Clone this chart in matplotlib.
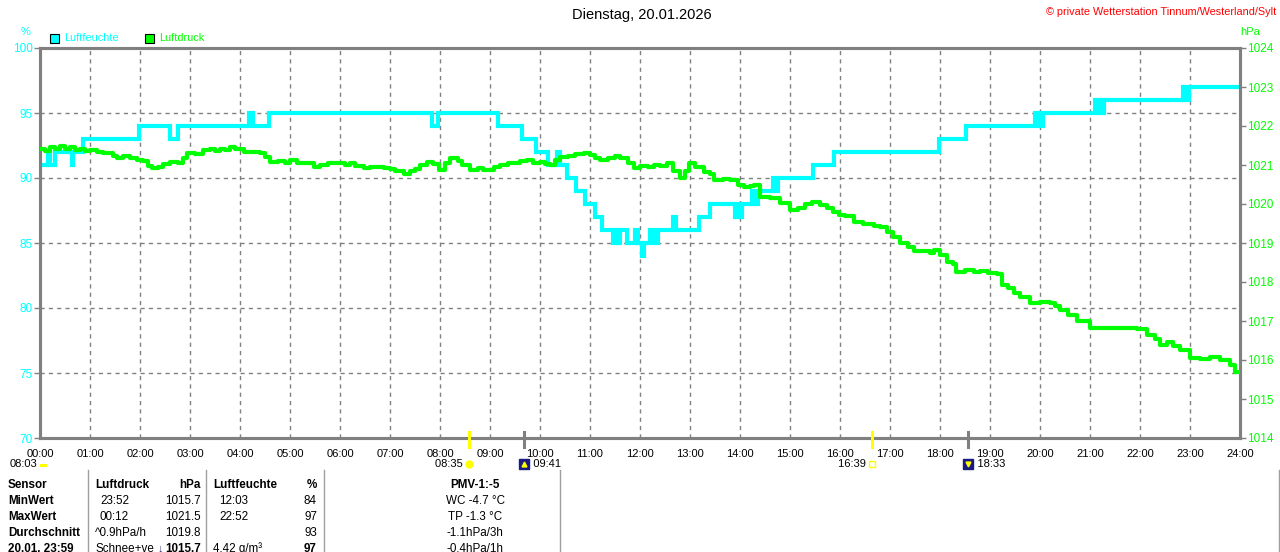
import matplotlib
matplotlib.use("Agg")
import matplotlib.pyplot as plt
from matplotlib import transforms
from matplotlib.lines import Line2D
from matplotlib.patches import Rectangle

plt.rcParams['font.family'] = ['Liberation Sans', 'DejaVu Sans']

# ---------------- data ----------------
title = "Dienstag, 20.01.2026"
copyright_txt = "© private Wetterstation Tinnum/Westerland/Sylt"
hour_labels = ["%02d:00" % h for h in range(25)]
hum_ticks = [70, 75, 80, 85, 90, 95, 100]
pres_ticks = list(range(1014, 1025))

# humidity (%) step changes: time (h), value
hum_t = [0, 0.15, 0.2, 0.3, 0.63, 0.66, 0.86, 1.97, 2.6, 2.76, 4.17, 4.27, 4.57,
         7.84, 7.96, 9.16, 9.64, 9.92, 10.16, 10.33, 10.4, 10.54, 10.72, 10.9,
         11.1, 11.24, 11.46, 11.52, 11.56, 11.6, 11.74, 11.9, 11.95, 12.03, 12.07,
         12.2, 12.28, 12.36, 12.65, 12.72, 13.18, 13.4, 13.9, 13.97, 14.0, 14.04,
         14.24, 14.3, 14.35, 14.66, 14.7, 14.75, 15.45, 15.88, 17.98, 18.52,
         19.9, 19.95, 20.0, 20.02, 20.05, 21.1, 21.15, 21.2, 21.23, 21.27,
         22.85, 22.88, 22.92, 22.95, 22.97, 24.0]
hum_v = [91, 92, 91, 92, 91, 92, 93, 94, 93, 94, 95, 94, 95,
         94, 95, 94, 93, 92, 91, 92, 91, 90, 89, 88,
         87, 86, 85, 86, 85, 86, 85, 86, 85, 84, 85,
         86, 85, 86, 87, 86, 87, 88, 87, 88, 87, 88,
         89, 88, 89, 90, 89, 90, 91, 92, 93, 94,
         95, 94, 95, 94, 95, 96, 95, 96, 95, 96,
         97, 96, 97, 96, 97, 97]

# air pressure (hPa)
pres_t = [0.0, 0.1, 0.2, 0.3, 0.4, 0.5, 0.6, 0.7, 0.8, 0.9, 1.0, 1.13, 1.25, 1.35,
          1.45, 1.53, 1.65, 1.8, 1.93, 2.05, 2.15, 2.24, 2.35, 2.45, 2.6, 2.75,
          2.85, 2.93, 3.1, 3.25, 3.4, 3.5, 3.6, 3.7, 3.8, 3.9, 4.07, 4.2, 4.4,
          4.5, 4.6, 4.75, 4.9, 5.0, 5.13, 5.3, 5.47, 5.6, 5.75, 5.93, 6.1, 6.2,
          6.3, 6.47, 6.6, 6.87, 7.0, 7.1, 7.27, 7.4, 7.5, 7.6, 7.73, 7.85, 7.97,
          8.1, 8.2, 8.35, 8.45, 8.6, 8.75, 8.87, 9.07, 9.2, 9.35, 9.47, 9.6, 9.73,
          9.85, 10.0, 10.1, 10.2, 10.3, 10.4, 10.55, 10.7, 10.87, 11.0, 11.1,
          11.2, 11.35, 11.5, 11.6, 11.75, 11.87, 12.0, 12.15, 12.27, 12.4, 12.53,
          12.65, 12.8, 12.9, 12.97, 13.1, 13.27, 13.4, 13.47, 13.65, 13.8, 13.95,
          14.07, 14.2, 14.27, 14.4, 14.6, 14.8, 15.0, 15.15, 15.3, 15.43, 15.6,
          15.73, 15.85, 15.97, 16.1, 16.27, 16.45, 16.67, 16.8, 16.93, 17.05,
          17.2, 17.35, 17.47, 17.67, 17.8, 17.87, 18.0, 18.13, 18.25, 18.33, 18.5,
          18.67, 18.8, 18.95, 19.13, 19.23, 19.35, 19.47, 19.6, 19.8, 20.0, 20.2,
          20.3, 20.4, 20.55, 20.73, 20.93, 21.0, 21.27, 21.6, 21.93, 22.13, 22.3,
          22.4, 22.53, 22.65, 22.8, 23.0, 23.2, 23.4, 23.6, 23.8, 23.9, 24.0]
pres_v = [1021.40, 1021.35, 1021.45, 1021.40, 1021.48, 1021.42, 1021.45, 1021.38,
          1021.40, 1021.35, 1021.38, 1021.34, 1021.30, 1021.32, 1021.22, 1021.17,
          1021.22, 1021.18, 1021.13, 1021.10, 1020.98, 1020.92, 1020.95, 1021.02,
          1021.08, 1021.05, 1021.18, 1021.30, 1021.28, 1021.38, 1021.40, 1021.35,
          1021.42, 1021.38, 1021.45, 1021.40, 1021.34, 1021.33, 1021.30, 1021.20,
          1021.08, 1021.10, 1021.06, 1021.12, 1021.04, 1021.06, 1020.96, 1021.00,
          1021.05, 1021.06, 1021.00, 1021.04, 1020.98, 1020.92, 1020.95, 1020.92,
          1020.90, 1020.85, 1020.77, 1020.85, 1020.90, 1021.00, 1021.08, 1021.02,
          1020.87, 1021.05, 1021.17, 1021.10, 1021.00, 1020.87, 1020.92, 1020.87,
          1020.96, 1021.00, 1021.05, 1021.06, 1021.10, 1021.13, 1021.06, 1021.08,
          1021.02, 1021.00, 1021.12, 1021.21, 1021.22, 1021.28, 1021.30, 1021.25,
          1021.18, 1021.13, 1021.18, 1021.22, 1021.17, 1021.05, 1020.92, 1020.97,
          1020.94, 1021.00, 1020.97, 1021.04, 1020.85, 1020.66, 1020.85, 1021.04,
          1020.95, 1020.83, 1020.78, 1020.62, 1020.64, 1020.62, 1020.50, 1020.43,
          1020.45, 1020.49, 1020.19, 1020.15, 1020.02, 1019.85, 1019.90, 1020.00,
          1020.06, 1019.97, 1019.89, 1019.80, 1019.72, 1019.68, 1019.55, 1019.50,
          1019.44, 1019.40, 1019.29, 1019.15, 1019.01, 1018.90, 1018.80, 1018.80,
          1018.75, 1018.83, 1018.70, 1018.52, 1018.45, 1018.26, 1018.30, 1018.26,
          1018.28, 1018.22, 1018.20, 1017.92, 1017.85, 1017.71, 1017.62, 1017.45,
          1017.48, 1017.45, 1017.38, 1017.28, 1017.15, 1017.00, 1017.00, 1016.81,
          1016.82, 1016.82, 1016.80, 1016.64, 1016.55, 1016.38, 1016.45, 1016.35,
          1016.26, 1016.04, 1016.02, 1016.08, 1016.00, 1015.87, 1015.70, 1015.70]

# sun / twilight events (h) and labels
sun_t = [8 + 35/60, 9 + 41/60, 16 + 39/60, 18 + 33/60]
sun_lbl = ["08:35", "09:41", "16:39", "18:33"]
sun_kind = ["rise", "civil_up", "set", "civil_down"]
first_lbl = "08:03"

# table
tbl_col1 = ["Sensor", "MinWert", "MaxWert", "Durchschnitt", "20.01. 23:59"]
tbl_p_left = ["Luftdruck", "23:52", "00:12", "^0.9hPa/h", "Schnee+ve"]
tbl_p_right = ["hPa", "1015.7", "1021.5", "1019.8", "1015.7"]
tbl_h_left = ["Luftfeuchte", "12:03", "22:52", "", "4.42 g/m³"]
tbl_h_right = ["%", "84", "97", "93", "97"]
tbl_extra = ["PMV-1:-5", "WC -4.7 °C", "TP -1.3 °C", "-1.1hPa/3h", "-0.4hPa/1h"]

# ---------------- styling ----------------
W, H = 1280, 552
CYAN = "#00FFFF"
GREEN = "#00FF00"
GRAY = "#808080"

def fx(x):
    return x / W

def fy(y):
    return 1 - y / H

fig = plt.figure(figsize=(W / 100, H / 100), dpi=100)
fig.patch.set_facecolor("white")
ax = fig.add_axes([fx(40), fy(438), 1200 / W, 390 / H])
ax.set_xlim(0, 24)
ax.set_ylim(70, 100)
ax2 = ax.twinx()
ax2.set_ylim(1014, 1024)

for a in (ax, ax2):
    for s in a.spines.values():
        s.set_color(GRAY)
        s.set_linewidth(2.2)

ax.set_xticks(range(25))
ax.set_xticklabels(hour_labels, fontsize=8)
ax.tick_params(axis='x', length=0, pad=8, colors='black')
ax.set_yticks(hum_ticks)
ax.set_yticklabels([str(v) for v in hum_ticks], fontsize=8.5, color=CYAN)
ax.tick_params(axis='y', length=4, width=1, color=GRAY, pad=1)
ax2.set_yticks(pres_ticks)
ax2.set_yticklabels([str(v) for v in pres_ticks], fontsize=8.5, color=GREEN)
ax2.tick_params(axis='y', length=4, width=1, color=GRAY, pad=1)

ax.grid(True, color=GRAY, linestyle=(0, (3, 3)), linewidth=1)
ax.set_axisbelow(True)

ax.plot(hum_t, hum_v, drawstyle='steps-post', color=CYAN, lw=3, solid_joinstyle='miter', zorder=3)
ax2.plot(pres_t, pres_v, drawstyle='steps-post', color=GREEN, lw=3, zorder=4)

# titles
fig.text(fx(642), fy(15), title, ha='center', va='center', fontsize=10.5, color='black')
fig.text(fx(1276), fy(12), copyright_txt, ha='right', va='center', fontsize=7.8, color='red')
fig.text(fx(26), fy(32), "%", ha='center', va='center', fontsize=8, color=CYAN)
fig.text(fx(1250), fy(32), "hPa", ha='center', va='center', fontsize=8, color=GREEN)

# legend
fig.add_artist(Rectangle((fx(50), fy(43)), 9 / W, 9 / H, transform=fig.transFigure,
                         facecolor=CYAN, edgecolor='black', lw=0.8))
fig.text(fx(64), fy(38), "Luftfeuchte", ha='left', va='center', fontsize=7.8, color=CYAN)
fig.add_artist(Rectangle((fx(145), fy(43)), 9 / W, 9 / H, transform=fig.transFigure,
                         facecolor=GREEN, edgecolor='black', lw=0.8))
fig.text(fx(159), fy(38), "Luftdruck", ha='left', va='center', fontsize=7.8, color=GREEN)

# sun event markers
bt = transforms.blended_transform_factory(ax.transData, fig.transFigure)
for t, lbl, kind in zip(sun_t, sun_lbl, sun_kind):
    if kind in ("rise", "set"):
        fig.add_artist(Line2D([t, t], [fy(432), fy(447)], transform=bt, color='#FFFF00', lw=2.2))
        ax.text(t, fy(464), lbl + "  ", transform=bt, ha='right', va='center', fontsize=8)
        if kind == "rise":
            ax.plot([t], [fy(464)], transform=bt, marker='o', ms=5, color='#FFFF00', clip_on=False)
        else:
            ax.plot([t], [fy(464)], transform=bt, marker='s', ms=4.5, mfc='none', mec='#FFFF00', clip_on=False)
    else:
        fig.add_artist(Line2D([t, t], [fy(432), fy(447)], transform=bt, color=GRAY, lw=2.2))
        ax.plot([t], [fy(464)], transform=bt, marker='s', ms=7, color='#1a1a80', clip_on=False)
        ax.plot([t], [fy(464)], transform=bt, marker='v' if kind == "civil_down" else '^',
                ms=3.5, color='#FFFF00', clip_on=False)
        ax.text(t, fy(464), "   " + lbl, transform=bt, ha='left', va='center', fontsize=8)
fig.text(fx(10), fy(464), first_lbl, ha='left', va='center', fontsize=8)
fig.add_artist(Rectangle((fx(40), fy(467)), 7 / W, 3 / H, transform=fig.transFigure,
                         facecolor='#FFFF00', edgecolor='none'))

# table separators
for xv in (88, 206, 324, 560, 1279):
    fig.add_artist(Line2D([fx(xv), fx(xv)], [fy(470), fy(552)], color='#a0a0a0', lw=1))

TF = 8.4
row_y = [485, 501, 517, 533, 549]
for i, y in enumerate(row_y):
    hdr = (i == 0)
    fig.text(fx(8), fy(y), tbl_col1[i], ha='left', va='center', fontsize=TF, fontweight='bold')
    fig.text(fx(95 if i in (0, 3, 4) else 100), fy(y), tbl_p_left[i], ha='left', va='center',
             fontsize=TF, fontweight='bold' if hdr else 'normal')
    fig.text(fx(201), fy(y), tbl_p_right[i], ha='right', va='center', fontsize=TF,
             fontweight='bold' if (hdr or i == 4) else 'normal')
    fig.text(fx(213 if i in (0, 4) else 219), fy(y), tbl_h_left[i], ha='left', va='center',
             fontsize=TF, fontweight='bold' if hdr else 'normal')
    fig.text(fx(317), fy(y), tbl_h_right[i], ha='right', va='center', fontsize=TF,
             fontweight='bold' if (hdr or i == 4) else 'normal')
    fig.text(fx(475), fy(y), tbl_extra[i], ha='center', va='center', fontsize=TF,
             fontweight='bold' if hdr else 'normal')
fig.text(fx(160), fy(548), "↓", ha='center', va='center', fontsize=8, color='#303080', fontweight='bold')

fig.savefig("out.png", dpi=100, facecolor='white')
